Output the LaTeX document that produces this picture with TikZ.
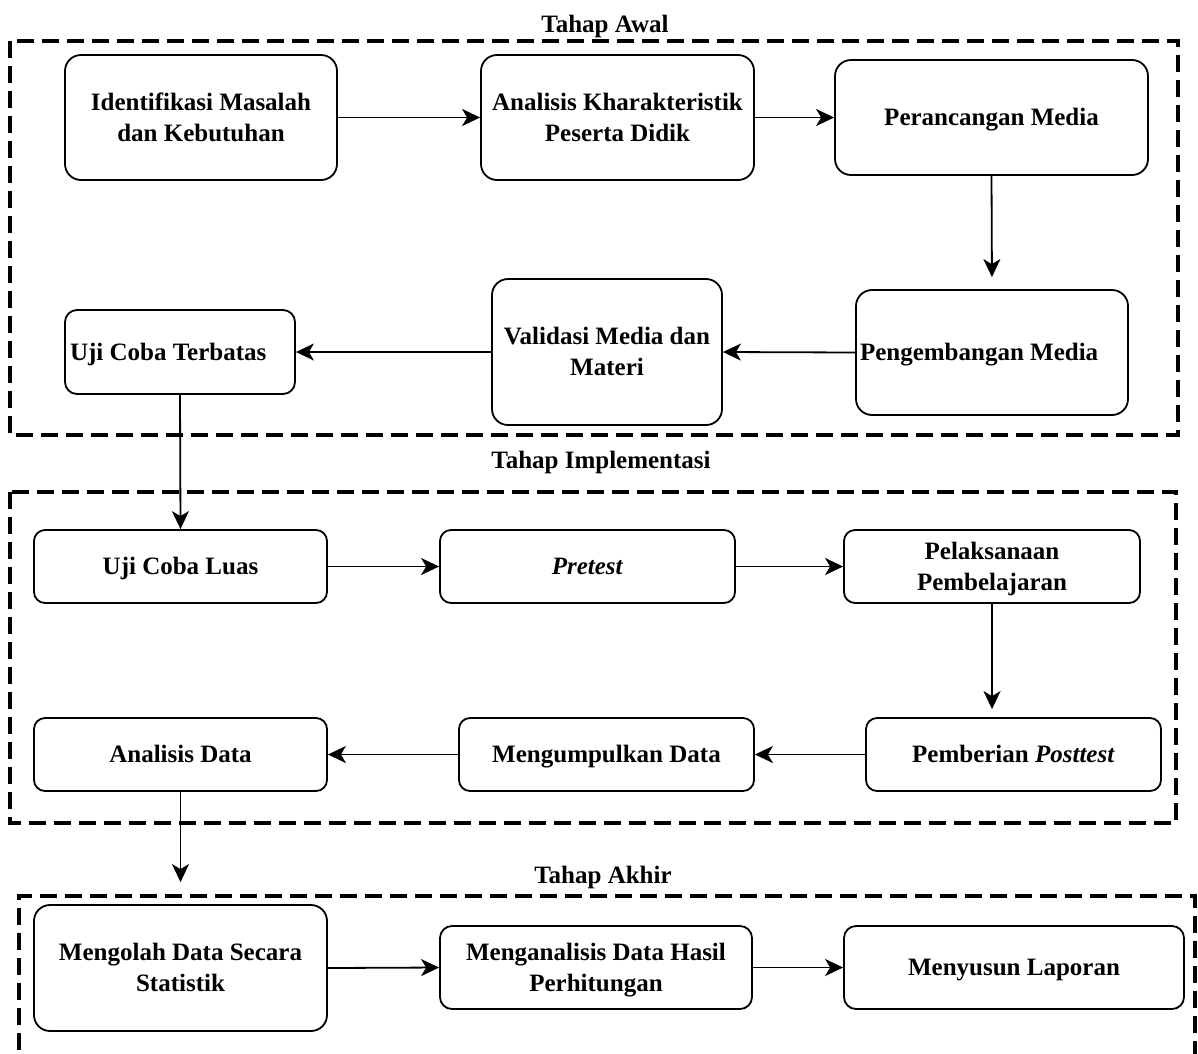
\documentclass[tikz,border=0pt]{standalone}
\usepackage{fontspec}
\setmainfont{Liberation Serif}
\usetikzlibrary{arrows.meta}
\begin{document}
\begin{tikzpicture}[x=1pt,y=-1pt,
  procbox/.style={draw, line width=1.8pt, inner sep=0pt, align=center,
    font=\fontsize{25}{31}\selectfont\bfseries},
  oneline/.style={text height=16.5pt, text depth=0pt},
  twoline/.style={text height=47.5pt, text depth=0pt},
  bigr/.style={rounded corners=16pt},
  smallr/.style={rounded corners=11pt},
  flowarrow/.style={line width=1.8pt, -{Stealth[length=18pt,width=17pt,inset=5pt]}},
  stageframe/.style={line width=3.5pt, dash pattern=on 17pt off 8pt},
  stagetitle/.style={font=\fontsize{25}{31}\selectfont\bfseries, anchor=base, inner sep=0pt}]
\useasboundingbox (0,0) rectangle (1198,1053);

% stage frames
\draw[stageframe] (10,41) rectangle (1178,435);
\draw[stageframe] (10,492) rectangle (1176,823);
\draw[stageframe] (19,1075) -- (19,896) -- (1195,896) -- (1195,1075);

\node[stagetitle] (t1) at (605,32) {Tahap Awal};
\node[stagetitle] (t2) at (601,468) {Tahap Implementasi};
\node[stagetitle] (t3) at (603,883) {Tahap Akhir};

% Tahap Awal
\node[procbox,twoline,bigr,minimum width=272pt,minimum height=125pt] (idm) at (201,117.5) {Identifikasi Masalah\\dan Kebutuhan};
\node[procbox,twoline,bigr,minimum width=273pt,minimum height=125pt] (akp) at (617.5,117.5) {Analisis Kharakteristik\\Peserta Didik};
\node[procbox,oneline,bigr,minimum width=313pt,minimum height=115pt] (prm) at (991.5,117.5) {Perancangan Media};
\node[procbox,oneline,bigr,minimum width=272pt,minimum height=125pt,text width=264pt,align=flush left] (pgm) at (992,352.5) {Pengembangan Media};
\node[procbox,twoline,bigr,minimum width=230pt,minimum height=146pt] (vmm) at (607,352) {Validasi Media dan\\Materi};
\node[procbox,oneline,rounded corners=12pt,minimum width=230pt,minimum height=84pt,text width=220pt,align=flush left] (uct) at (180,352) {Uji Coba Terbatas};

% Tahap Implementasi
\node[procbox,oneline,smallr,minimum width=293pt,minimum height=73pt] (ucl) at (180.5,566.5) {Uji Coba Luas};
\node[procbox,oneline,smallr,minimum width=295pt,minimum height=73pt] (pre) at (587.5,566.5) {\textit{Pretest}};
\node[procbox,twoline,smallr,minimum width=296pt,minimum height=73pt] (pel) at (992,566.5) {Pelaksanaan\\Pembelajaran};
\node[procbox,oneline,smallr,minimum width=295pt,minimum height=73pt] (pem) at (1013.5,754.5) {Pemberian \textit{Posttest}};
\node[procbox,oneline,smallr,minimum width=295pt,minimum height=73pt] (mkd) at (606.5,754.5) {Mengumpulkan Data};
\node[procbox,oneline,smallr,minimum width=293pt,minimum height=73pt] (adt) at (180.5,754.5) {Analisis Data};

% Tahap Akhir
\node[procbox,twoline,bigr,minimum width=293pt,minimum height=126pt] (mds) at (180.5,968) {Mengolah Data Secara\\Statistik};
\node[procbox,twoline,rounded corners=12pt,minimum width=312pt,minimum height=83pt] (mdh) at (596,967.5) {Menganalisis Data Hasil\\Perhitungan};
\node[procbox,oneline,rounded corners=12pt,minimum width=340pt,minimum height=83pt] (msl) at (1014,967.5) {Menyusun Laporan};

% connectors
\draw[flowarrow] (idm.east) -- (akp.west);
\draw[flowarrow] (akp.east) -- (prm.west);
\draw[flowarrow, shorten >=12pt] (prm.south) -- (pgm.north);
\draw[flowarrow] (pgm.west) -- (vmm.east);
\draw[flowarrow] (vmm.west) -- (uct.east);
\draw[flowarrow] (uct.south) -- (ucl.north);
\draw[flowarrow] (ucl.east) -- (pre.west);
\draw[flowarrow] (pre.east) -- (pel.west);
\draw[flowarrow, shorten >=8pt] (pel.south) -- (pel.south |- pem.north);
\draw[flowarrow] (pem.west) -- (mkd.east);
\draw[flowarrow] (mkd.west) -- (adt.east);
\draw[flowarrow, shorten >=22pt] (adt.south) -- (mds.north);
\draw[flowarrow] (mds.east) -- (mdh.west);
\draw[flowarrow] (mdh.east) -- (msl.west);
\end{tikzpicture}
\end{document}
